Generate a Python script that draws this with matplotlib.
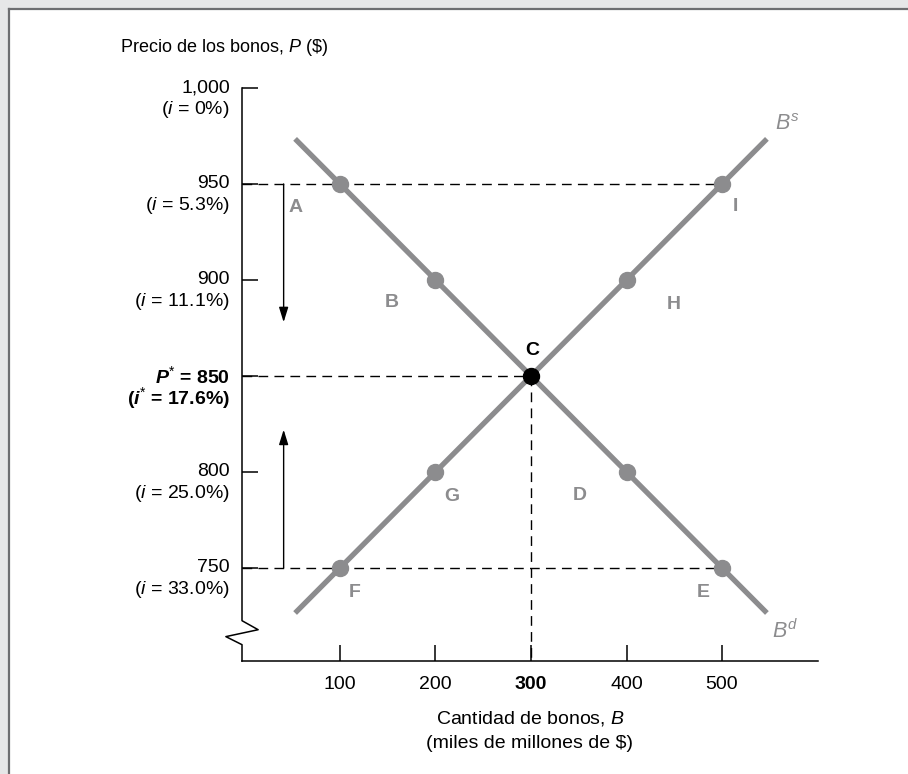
import matplotlib
matplotlib.use("Agg")
import matplotlib.pyplot as plt
import matplotlib.transforms as mtransforms
from matplotlib.lines import Line2D
from matplotlib.patches import Rectangle

plt.rcParams['font.family'] = ['Liberation Sans', 'DejaVu Sans']
plt.rcParams['mathtext.fontset'] = 'custom'
plt.rcParams['mathtext.rm'] = 'Liberation Sans'
plt.rcParams['mathtext.it'] = 'Liberation Sans:italic'
plt.rcParams['mathtext.bf'] = 'Liberation Sans:bold'
plt.rcParams['mathtext.bfit'] = 'Liberation Sans:italic:bold'

# data
price_ticks = [1000, 950, 900, 850, 800, 750]
price_labels = ['1,000', '950', '900', r'$\mathbfit{P}^{*}$ = 850', '800', '750']
rate_labels = ['0%', '5.3%', '11.1%', '17.6%', '25.0%', '33.0%']
qty_ticks = [100, 200, 300, 400, 500]

# demand curve Bd and supply curve Bs
bd_q = [53, 547]
bd_p = [973.5, 726.5]
bs_q = [53, 547]
bs_p = [726.5, 973.5]

pt_names = ['A', 'B', 'D', 'E', 'F', 'G', 'H', 'I']
pt_q = [100, 200, 400, 500, 100, 200, 400, 500]
pt_p = [950, 900, 800, 750, 750, 800, 900, 950]
eq_q, eq_p = 300, 850

# label offsets in pixels (dx, dy)
pt_offsets = [(-44, -24), (-44, -23), (-47, -24), (-19, -25),
              (15, -25), (16, -25), (47, -25), (13, -23)]

gray = '#8c8c8e'
fs = 14

fig = plt.figure(figsize=(9.08, 7.74), dpi=100, facecolor='#e6e7e8')
# white panel with top/left border
fig.patches.append(Rectangle((10 / 908, 0), 1, 1 - 10 / 774, transform=fig.transFigure,
                             facecolor='white', edgecolor='none', zorder=-10))
fig.lines.append(Line2D([9 / 908, 9 / 908], [0, 1 - 9 / 774], transform=fig.transFigure,
                        color='#6d6e71', lw=1.6, zorder=-5))
fig.lines.append(Line2D([9 / 908, 1], [1 - 9 / 774, 1 - 9 / 774], transform=fig.transFigure,
                        color='#6d6e71', lw=1.6, zorder=-5))

ax = fig.add_axes([242 / 908, 113 / 774, 576 / 908, 573 / 774])
ax.set_facecolor('none')
x0, x1 = -2.6, 600.5
y0, y1 = 701.5, 1000
ax.set_xlim(x0, x1)
ax.set_ylim(y0, y1)

for s in ['top', 'right', 'left']:
    ax.spines[s].set_visible(False)
ax.spines['bottom'].set_linewidth(1.1)

# left axis with break
tr = mtransforms.blended_transform_factory(ax.transAxes, ax.transData)
bx = [0, 0, 0.028, -0.028, 0, 0]
by = [1000, 722.5, 717.8, 714.2, 710.0, y0]
ax.plot(bx, by, color='black', lw=1.1, transform=tr, clip_on=False, zorder=5)

ax.set_yticks(price_ticks)
ax.set_yticklabels([])
ax.tick_params(axis='y', direction='in', length=11.5, width=1.1, left=True)
ax.set_xticks(qty_ticks)
ax.set_xticklabels([str(q) for q in qty_ticks], fontsize=fs)
ax.tick_params(axis='x', direction='in', length=11.5, width=1.1, pad=11)
for lab in ax.get_xticklabels():
    if lab.get_text() == '300':
        lab.set_fontweight('bold')

# y labels, two lines each
for p, lab, r in zip(price_ticks, price_labels, rate_labels):
    bold = (p == eq_p)
    w = 'bold' if bold else 'normal'
    ax.annotate(lab, (0, p), xycoords=('axes fraction', 'data'), xytext=(-12, 0),
                textcoords='offset pixels', ha='right', va='center', fontsize=fs,
                fontweight=w, annotation_clip=False)
    il = r'($\mathbfit{i}^{*}$ = ' + r + ')' if bold else r'($i$ = ' + r + ')'
    ax.annotate(il, (0, p), xycoords=('axes fraction', 'data'), xytext=(-12, -22),
                textcoords='offset pixels', ha='right', va='center', fontsize=fs,
                fontweight=w, annotation_clip=False)

# dashed guides
dash = (0, (7, 4.5))
ax.plot([x0, 500], [950, 950], color='black', lw=1, ls=dash, zorder=2)
ax.plot([x0, eq_q], [eq_p, eq_p], color='black', lw=1, ls=dash, zorder=2)
ax.plot([x0, 500], [750, 750], color='black', lw=1, ls=dash, zorder=2)
ax.plot([eq_q, eq_q], [eq_p, y0], color='black', lw=1, ls=dash, zorder=2)

# curves
ax.plot(bd_q, bd_p, color=gray, lw=3.8, solid_capstyle='butt', zorder=3)
ax.plot(bs_q, bs_p, color=gray, lw=3.8, solid_capstyle='butt', zorder=3)
ax.plot(pt_q, pt_p, 'o', color=gray, ms=11.5, zorder=4)
ax.plot([eq_q], [eq_p], 'o', color='black', ms=11.5, zorder=6)

for n, q, p, (dx, dy) in zip(pt_names, pt_q, pt_p, pt_offsets):
    ax.annotate(n, (q, p), xytext=(dx, dy), textcoords='offset pixels', ha='center',
                va='center', fontsize=fs, fontweight='bold', color=gray)
ax.annotate('C', (eq_q, eq_p), xytext=(1, 25), textcoords='offset pixels', ha='center',
            va='center', fontsize=fs, fontweight='bold', color='black')

ax.annotate(r'$B^s$', (bs_q[1], bs_p[1]), xytext=(8, 14), textcoords='offset pixels',
            ha='left', va='center', fontsize=fs + 1.5, color=gray)
ax.annotate(r'$B^d$', (bd_q[1], bd_p[1]), xytext=(5, -18), textcoords='offset pixels',
            ha='left', va='center', fontsize=fs + 1.5, color=gray)

# arrows
arrow = dict(arrowstyle='-|>,head_length=0.9,head_width=0.28', color='black', lw=1,
             shrinkA=0, shrinkB=0)
ax.annotate('', xy=(41, 878), xytext=(41, 950), arrowprops=arrow)
ax.annotate('', xy=(41, 822), xytext=(41, 750), arrowprops=arrow)

ax.set_xlabel('Cantidad de bonos, $B$\n(miles de millones de $)', fontsize=fs,
              labelpad=11, linespacing=1.6)
fig.text(120 / 908, 1 - 47 / 774, r'Precio de los bonos, $P$ (\$)', fontsize=13,
         ha='left', va='center')

fig.savefig('out.png', dpi=100, facecolor=fig.get_facecolor())
